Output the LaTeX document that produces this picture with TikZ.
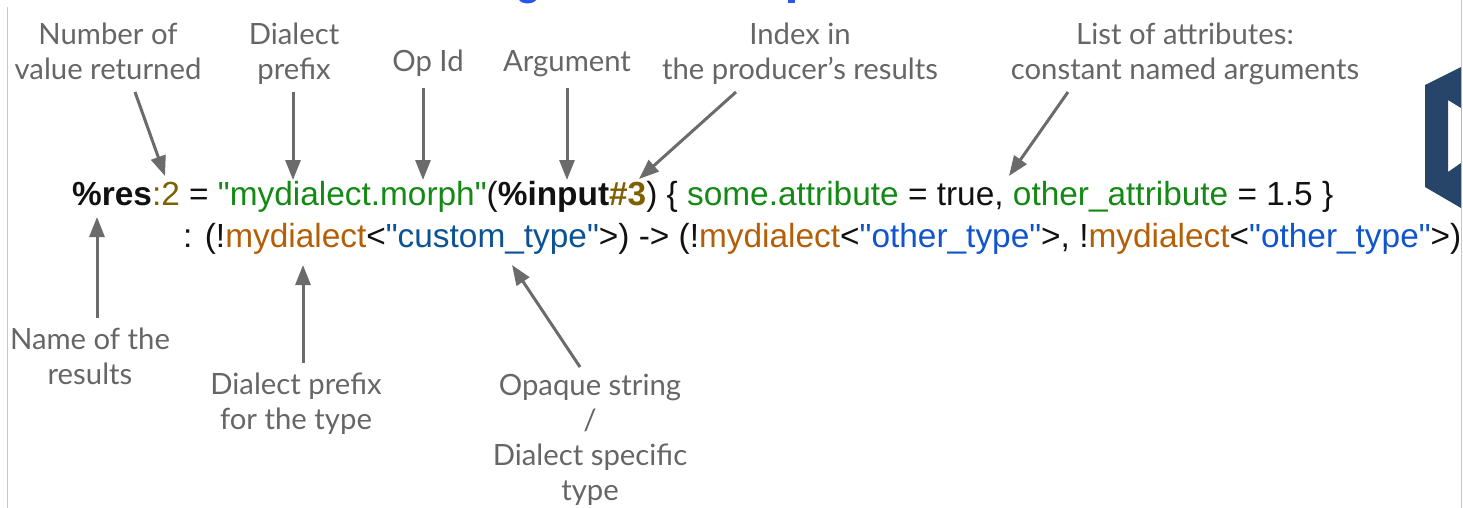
\documentclass[tikz,border=0pt]{standalone}
\usepackage{fontspec}
\usetikzlibrary{arrows.meta}
\newfontfamily\codefont{Liberation Sans}
\newfontfamily\labelfont{Lato}

\definecolor{codeblack}{HTML}{111111}
\definecolor{olivec}{HTML}{7F6000}
\definecolor{greenc}{HTML}{148A14}
\definecolor{orangec}{HTML}{B45F06}
\definecolor{bluedark}{HTML}{0B5394}
\definecolor{bluebright}{HTML}{1155CC}
\definecolor{labelgray}{HTML}{666666}
\definecolor{arrowgray}{HTML}{6B6B6B}
\definecolor{navy}{HTML}{274568}
\definecolor{framegray}{HTML}{C8C8C8}
\definecolor{titleblue}{HTML}{2B55F0}

% a multi-line node sits on the baseline of its last line
\tikzset{
  lbl/.style={font=\labelfont\fontsize{29.3}{35}\selectfont, text=labelgray,
    align=center, inner sep=0pt, anchor=base},
  codeline/.style={font=\codefont\fontsize{33.4}{40}\selectfont, text=codeblack,
    inner sep=0pt, anchor=base west},
  pointer/.style={draw=arrowgray, line width=3pt,
    -{Triangle[length=20pt,width=15pt]}},
  frame/.style={draw=framegray, line width=1.5pt},
}

\newcommand{\ol}[1]{\textcolor{olivec}{#1}}
\newcommand{\gr}[1]{\textcolor{greenc}{#1}}
\newcommand{\orn}[1]{\textcolor{orangec}{#1}}
\newcommand{\bd}[1]{\textcolor{bluedark}{#1}}
\newcommand{\bb}[1]{\textcolor{bluebright}{#1}}

\begin{document}
\begin{tikzpicture}[x=1pt, y=-1pt]
  \useasboundingbox (0,0) rectangle (1463,508);

  % page edges
  \draw[frame] (7.5,7) -- (7.5,508);
  \draw[frame] (1461.5,0) -- (1461.5,508);

  % bits of the heading above
  \fill[titleblue] (519,0) .. controls (522,4.5) and (533,4.5) .. (536,0) -- cycle;
  \fill[titleblue] (788,0) rectangle (795,3);

  % logo at the right edge
  \fill[navy, even odd rule]
    (1425,85) -- (1461,67) -- (1461,208) -- (1425,187) -- cycle
    (1448,100) -- (1461,108) -- (1461,163) -- (1448,172) -- cycle;

  % the operation
  \node[codeline] (line1) at (72,205)
    {{\bfseries\%res}\ol{:2} = \gr{"mydialect.morph"}({\bfseries\%input\ol{\#3}}) \{ \gr{some.attribute} = true, \gr{other\_attribute} = 1.5 \}};
  \node[codeline] (line2) at (183,247)
    {: (!\orn{mydialect}<\bd{"custom\_type"}>) -> (!\orn{mydialect}<\bb{"other\_type"}>, !\orn{mydialect}<\bb{"other\_type"}>)};

  % labels above
  \node[lbl] (nres)  at (108,80)  {Number of\\value returned};
  \node[lbl] (dpre)  at (294,80)  {Dialect\\prefix};
  \node[lbl] (opid)  at (428,72)  {Op Id};
  \node[lbl] (arg)   at (567,72)  {Argument};
  \node[lbl] (idx)   at (800,80)  {Index in\\the producer’s results};
  \node[lbl] (attrs) at (1185,80) {List of attributes:\\constant named arguments};

  % labels below
  \node[lbl] (rname) at (90,384)  {Name of the\\results};
  \node[lbl] (tpre)  at (296,429) {Dialect prefix\\for the type};
  \node[lbl] (opq)   at (590,500) {Opaque string\\/\\Dialect specific\\type};

  % arrow ends
  \coordinate (nres-t) at (135,92);   \coordinate (nres-h) at (165,176);
  \coordinate (dpre-t) at (293,92);   \coordinate (dpre-h) at (293,180);
  \coordinate (opid-t) at (423,88);   \coordinate (opid-h) at (423,180);
  \coordinate (arg-t)  at (567,88);   \coordinate (arg-h)  at (567,180);
  \coordinate (idx-t)  at (736,92);   \coordinate (idx-h)  at (639,179);
  \coordinate (attr-t) at (1068,92);  \coordinate (attr-h) at (1009,176);
  \coordinate (rname-t) at (97,318);  \coordinate (rname-h) at (97,217);
  \coordinate (tpre-t) at (303,363);  \coordinate (tpre-h) at (303,265);
  \coordinate (opq-t)  at (580,367);  \coordinate (opq-h)  at (512,265);

  \draw[pointer] (nres-t) -- (nres-h);
  \draw[pointer] (dpre-t) -- (dpre-h);
  \draw[pointer] (opid-t) -- (opid-h);
  \draw[pointer] (arg-t) -- (arg-h);
  \draw[pointer] (idx-t) -- (idx-h);
  \draw[pointer] (attr-t) -- (attr-h);
  \draw[pointer] (rname-t) -- (rname-h);
  \draw[pointer] (tpre-t) -- (tpre-h);
  \draw[pointer] (opq-t) -- (opq-h);
\end{tikzpicture}
\end{document}
